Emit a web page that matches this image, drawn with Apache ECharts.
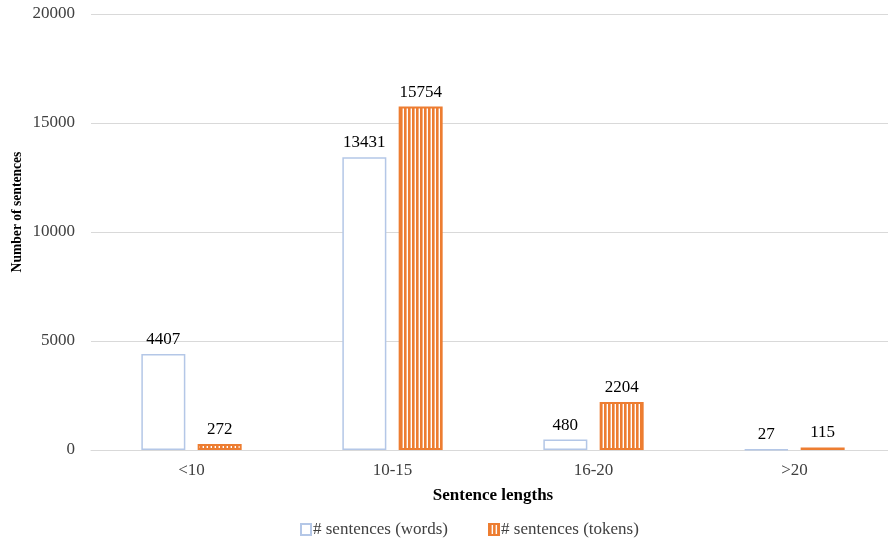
<!DOCTYPE html>
<html>
<head>
<meta charset="utf-8">
<script src="https://cdn.jsdelivr.net/npm/echarts@6/dist/echarts.min.js"></script>
<style>html,body{margin:0;padding:0;background:#fff}#c{width:888px;height:542px}</style>
</head>
<body>
<div id="c"></div>
<script>
const categories = ['<10', '10-15', '16-20', '>20'];
const wordsValues = [4407, 13431, 480, 27];
const tokensValues = [272, 15754, 2204, 115];
const yTicks = [0, 5000, 10000, 15000, 20000];

const pat = document.createElement('canvas');
pat.width = 4; pat.height = 4;
const pc = pat.getContext('2d');
pc.fillStyle = '#ffffff'; pc.fillRect(0, 0, 4, 4);
pc.fillStyle = '#ED7D31'; pc.fillRect(0, 0, 2.6, 4);

const font = 'Liberation Serif';
const fs = 17;
const chart = echarts.init(document.getElementById('c'), null, {renderer: 'canvas'});
chart.setOption({
  animation: false,
  textStyle: {fontFamily: font},
  grid: {left: 91, right: -7, top: 14, bottom: 92, containLabel: false, outerBoundsMode: 'none'},
  legend: {
    top: 516, left: 295,
    icon: 'rect',
    itemWidth: 10, itemHeight: 11, itemGap: 40,
    textStyle: {fontFamily: font, fontSize: fs, color: '#404040', padding: [0, 0, 0, -3]},
    data: ['# sentences (words)', '# sentences (tokens)']
  },
  xAxis: {
    type: 'category', data: categories,
    name: 'Sentence lengths', nameLocation: 'middle', nameGap: 37,
    nameTextStyle: {fontFamily: font, fontSize: fs, fontWeight: 'bold', color: '#000'},
    axisLine: {lineStyle: {color: '#d9d9d9'}},
    axisTick: {show: false},
    axisLabel: {fontFamily: font, fontSize: fs, color: '#404040', margin: 12}
  },
  yAxis: {
    type: 'value', min: yTicks[0], max: yTicks[yTicks.length - 1], interval: 5000,
    name: 'Number of sentences', nameLocation: 'middle', nameGap: 67, nameRotate: 90,
    nameMoveOverlap: false,
    nameTextStyle: {fontFamily: font, fontSize: 13.6, fontWeight: 'bold', color: '#000', padding: [0, 0, 0, 40]},
    axisLine: {show: false}, axisTick: {show: false},
    axisLabel: {fontFamily: font, fontSize: fs, color: '#404040', margin: 16, formatter: v => String(v)},
    splitLine: {lineStyle: {color: '#d9d9d9'}}
  },
  series: [
    {
      name: '# sentences (words)', type: 'bar', data: wordsValues,
      barWidth: 44, barGap: '28%',
      itemStyle: {color: '#ffffff', borderColor: '#B4C7E7', borderWidth: 1.5},
      label: {show: true, position: 'top', distance: 6, fontFamily: font, fontSize: fs, color: '#000'}
    },
    {
      name: '# sentences (tokens)', type: 'bar', data: tokensValues,
      barWidth: 44,
      itemStyle: {color: {image: pat, repeat: 'repeat'}, borderColor: '#ED7D31', borderWidth: 2},
      label: {show: true, position: 'top', distance: 6, fontFamily: font, fontSize: fs, color: '#000'}
    }
  ]
});
</script>
</body>
</html>
